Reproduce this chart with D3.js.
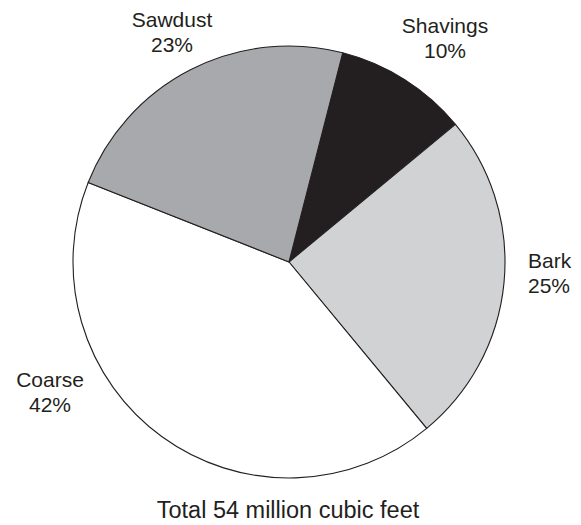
<!DOCTYPE html>
<html>
<head>
<meta charset="utf-8">
<script src="https://cdn.jsdelivr.net/npm/d3@7"></script>
<style>
  html, body { margin: 0; padding: 0; background: #fff; }
  svg { display: block; }
  text { font-family: "Liberation Sans", Arial, Helvetica, sans-serif; fill: #231f20; }
</style>
</head>
<body>
<script>
// Wood residue composition, share of total volume (%)
const categories = ["Shavings", "Bark", "Coarse", "Sawdust"];
const shares = [10, 25, 42, 23];
const fills = ["#231f20", "#d1d2d4", "#ffffff", "#a7a9ac"];
const totalLabel = "Total 54 million cubic feet";

// Label anchor points per category (text position, alignment)
const labelPos = {
  Shavings: { x: 445, y: 33, anchor: "middle" },
  Bark:     { x: 528, y: 268, anchor: "start" },
  Coarse:   { x: 50,  y: 387, anchor: "middle" },
  Sawdust:  { x: 172, y: 27, anchor: "middle" }
};

const W = 581, H = 525;
const cx = 289, cy = 262, R = 216;

const svg = d3.select("body").append("svg")
  .attr("width", W).attr("height", H);

const data = categories.map((c, i) => ({ name: c, value: shares[i], fill: fills[i] }));

const startOffset = 0.04 * 2 * Math.PI;
const pie = d3.pie()
  .value(d => d.value)
  .sort(null)
  .startAngle(startOffset)
  .endAngle(startOffset + 2 * Math.PI);

const arc = d3.arc().innerRadius(0).outerRadius(R);

const g = svg.append("g").attr("transform", `translate(${cx},${cy})`);

g.selectAll("path")
  .data(pie(data))
  .join("path")
  .attr("d", arc)
  .attr("fill", d => d.data.fill)
  .attr("stroke", "#231f20")
  .attr("stroke-width", 1.1)
  .attr("stroke-linejoin", "round");

const labels = svg.append("g");
data.forEach(d => {
  const p = labelPos[d.name];
  const t = labels.append("text")
    .attr("x", p.x).attr("y", p.y)
    .attr("text-anchor", p.anchor)
    .attr("font-size", 21);
  t.append("tspan").attr("x", p.x).text(d.name);
  t.append("tspan").attr("x", p.x).attr("dy", 25).text(d.value + "%");
});

svg.append("text")
  .attr("x", 288).attr("y", 518)
  .attr("text-anchor", "middle")
  .attr("font-size", 23.5)
  .text(totalLabel);
</script>
</body>
</html>
